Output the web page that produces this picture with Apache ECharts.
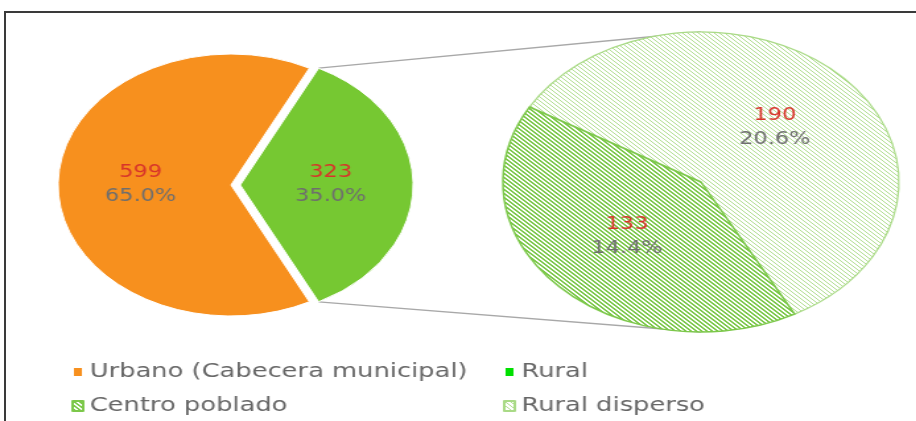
<!DOCTYPE html>
<html><head><meta charset="utf-8">
<script src="https://cdn.jsdelivr.net/npm/echarts@6/dist/echarts.min.js"></script>
<style>
html,body{margin:0;padding:0;background:#fff;overflow:hidden;width:916px;height:421px;}
#frame{position:absolute;left:4px;top:11px;width:1000px;height:500px;border:2px solid #3a3a3a;box-sizing:border-box;}
#chart{position:absolute;left:0;top:0;width:694px;height:421px;transform:scaleX(1.32);transform-origin:0 0;}
</style></head><body>
<div id="frame"></div>
<div id="chart"></div>
<script>
// ---- data ----
const mainCategories = ['Urbano (Cabecera municipal)', 'Rural'];
const mainValues = [599, 323];
const ruralCategories = ['Centro poblado', 'Rural disperso'];
const ruralValues = [133, 190];
const legendOrder = ['Urbano (Cabecera municipal)', 'Rural', 'Centro poblado', 'Rural disperso'];

const total = mainValues.reduce((a, b) => a + b, 0);

// ---- layout (unstretched coords; page stretches x by 1.32) ----
const MAIN = {cx: 175, cy: 185, r: 131, offset: 7};
const SUB = {cx: 531, cy: 182, r: 150, startAngle: 150};
const FONT = 'DejaVu Sans';

function hatch(fg, bg, period, thick) {
  const c = document.createElement('canvas');
  c.width = period; c.height = period;
  const g = c.getContext('2d');
  g.fillStyle = bg; g.fillRect(0, 0, period, period);
  g.fillStyle = fg;
  for (let y = 0; y < period; y++) for (let x = 0; x < period; x++) {
    if ((((x - y) % period) + period) % period < thick) g.fillRect(x, y, 1, 1);
  }
  return {image: c, repeat: 'repeat'};
}

const colUrbano = '#F7901E';
const colRural = '#76C832';
const colRuralLegend = '#00E000';
const patCentro = hatch('#7CC84A', '#ffffff', 4, 2);
const patDisperso = hatch('#B2DE92', '#ffffff', 4, 1);

const rich = {
  v: {color: '#D8342A', fontSize: 17, fontFamily: FONT, lineHeight: 24},
  p: {color: '#6E6E6E', fontSize: 17, fontFamily: FONT, lineHeight: 24}
};
const fmt = p => '{v|' + p.value + '}\n{p|' + (p.value / total * 100).toFixed(1) + '%}';

const ruralHalf = 180 * mainValues[1] / total; // half angle of Rural slice
const rad = ruralHalf * Math.PI / 180;
const topStart = [MAIN.cx + MAIN.offset + MAIN.r * Math.cos(rad), MAIN.cy - MAIN.r * Math.sin(rad)];
const botStart = [MAIN.cx + MAIN.offset + MAIN.r * Math.cos(rad), MAIN.cy + MAIN.r * Math.sin(rad)];
const topEnd = [SUB.cx, SUB.cy - SUB.r];
const botEnd = [SUB.cx, SUB.cy + SUB.r];

const chart = echarts.init(document.getElementById('chart'), null, {renderer: 'canvas'});
const legendText = {fontSize: 19.5, fontFamily: FONT, color: '#666666'};
const legendPos = [[49, 357], [376, 357], [49, 391], [376, 391]];
const legendItems = [
  legendOrder[0],
  {name: legendOrder[1], itemStyle: {color: colRuralLegend}},
  legendOrder[2],
  legendOrder[3]
];
chart.setOption({
  backgroundColor: 'transparent',
  animation: false,
  legend: legendItems.map((it, i) => ({
    left: legendPos[i][0], top: legendPos[i][1], itemWidth: 8, itemHeight: 10, icon: 'rect',
    selectedMode: false, textStyle: legendText, data: [it]
  })),
  graphic: [
    {type: 'line', shape: {x1: topStart[0], y1: topStart[1], x2: topEnd[0], y2: topEnd[1]},
     style: {stroke: '#A8A8A8', lineWidth: 1.3}, z: 0, silent: true},
    {type: 'line', shape: {x1: botStart[0], y1: botStart[1], x2: botEnd[0], y2: botEnd[1]},
     style: {stroke: '#A8A8A8', lineWidth: 1.3}, z: 0, silent: true}
  ],
  series: [
    {
      type: 'pie', center: [MAIN.cx, MAIN.cy], radius: [0, MAIN.r], startAngle: ruralHalf, clockwise: true,
      selectedMode: 'single', selectedOffset: MAIN.offset, avoidLabelOverlap: false,
      emphasis: {disabled: true}, z: 2,
      itemStyle: {borderColor: '#ffffff', borderWidth: 1},
      label: {show: true, position: 'inner', formatter: fmt, rich: rich},
      labelLine: {show: false},
      data: [
        {name: mainCategories[1], value: mainValues[1], selected: true, itemStyle: {color: colRural}},
        {name: mainCategories[0], value: mainValues[0], itemStyle: {color: colUrbano}}
      ]
    },
    {
      type: 'pie', center: [SUB.cx, SUB.cy], radius: [0, SUB.r], startAngle: SUB.startAngle, clockwise: true,
      selectedMode: false, avoidLabelOverlap: false, emphasis: {disabled: true}, z: 2,
      label: {show: true, position: 'inner', formatter: fmt, rich: rich},
      labelLine: {show: false},
      data: [
        {name: ruralCategories[1], value: ruralValues[1], itemStyle: {color: patDisperso, borderColor: '#A9DA86', borderWidth: 1.2}},
        {name: ruralCategories[0], value: ruralValues[0], itemStyle: {color: patCentro, borderColor: '#7CC84A', borderWidth: 1.5}}
      ]
    }
  ]
});
</script>
</body></html>
